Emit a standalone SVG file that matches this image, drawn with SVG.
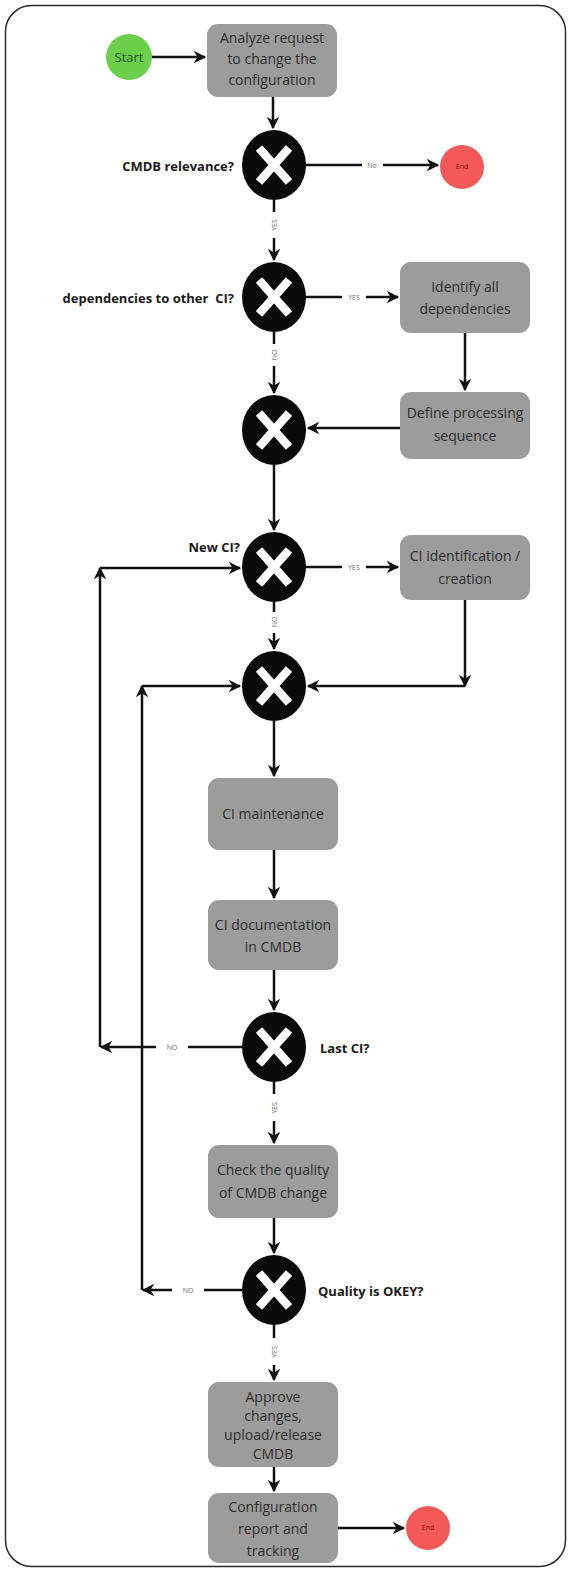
<svg xmlns="http://www.w3.org/2000/svg" width="571" height="1571" viewBox="0 0 571 1571">
  <defs>
    <marker id="arrow" viewBox="0 0 10 10" refX="9" refY="5" markerWidth="5" markerHeight="5" orient="auto" markerUnits="strokeWidth">
      <path d="M0,0 L10,5 L0,10 L3,5 Z" fill="#111"/>
    </marker>
    <g id="xmark">
      <ellipse cx="0" cy="0" rx="32" ry="35" fill="#0a0a0a"/>
      <path d="M-15,-17 L15,17 M15,-17 L-15,17" stroke="#fff" stroke-width="8.5"/>
    </g>
  </defs>
  <style>
    .frame { fill: #fff; stroke: #2a2a2a; stroke-width: 1.5; }
    .box { fill: #9c9c9c; }
    .btxt { font-family: "Open Sans", "Liberation Sans", sans-serif; font-size: 14px; fill: #2e2e2e; text-anchor: middle; }
    .q { font-family: "Open Sans", "Liberation Sans", sans-serif; font-size: 13px; font-weight: bold; fill: #1a1a1a; }
    .lbl { font-family: "Open Sans", "Liberation Sans", sans-serif; font-size: 7px; fill: #666; text-anchor: middle; }
    .edge { fill: none; stroke: #111; stroke-width: 2.5; }
    .arr { marker-end: url(#arrow); }
  </style>

  <rect class="frame" x="5.5" y="5.5" width="560" height="1561" rx="26"/>

  <!-- connectors -->
  <g id="connectors">
    <path class="edge arr" d="M152,57 H205"/>
    <path class="edge arr" d="M273,97 V128"/>
    <path class="edge" d="M306,165 H362"/>
    <path class="edge arr" d="M383,165 H438"/>
    <text class="lbl" x="372" y="168">No</text>
    <path class="edge" d="M274,200 V212"/>
    <text class="lbl" transform="translate(277,225) rotate(-90)">YES</text>
    <path class="edge arr" d="M274,238 V260"/>
    <path class="edge" d="M306,297 H342"/>
    <text class="lbl" x="354" y="300">YES</text>
    <path class="edge arr" d="M366,297 H398"/>
    <path class="edge" d="M274,332 V344"/>
    <text class="lbl" transform="translate(277,355) rotate(-90)">NO</text>
    <path class="edge arr" d="M274,366 V393"/>
    <path class="edge arr" d="M465,333 V390"/>
    <path class="edge arr" d="M400,428 H308"/>
    <path class="edge arr" d="M274,465 V530"/>
    <path class="edge" d="M306,567 H342"/>
    <text class="lbl" x="354" y="570">YES</text>
    <path class="edge arr" d="M366,567 H398"/>
    <path class="edge" d="M274,602 V612"/>
    <text class="lbl" transform="translate(277,622) rotate(-90)">NO</text>
    <path class="edge arr" d="M274,633 V649"/>
    <path class="edge arr" d="M465,600 V686"/>
    <path class="edge arr" d="M465,686 H308"/>
    <path class="edge arr" d="M100,1047 V568"/>
    <path class="edge arr" d="M100,568 H240"/>
    <path class="edge arr" d="M142,1290 V686"/>
    <path class="edge arr" d="M142,686 H240"/>
    <path class="edge arr" d="M274,721 V776"/>
    <path class="edge arr" d="M274,850 V898"/>
    <path class="edge arr" d="M274,970 V1010"/>
    <path class="edge" d="M242,1047 H188"/>
    <text class="lbl" x="172" y="1050">NO</text>
    <path class="edge arr" d="M156,1047 H101"/>
    <path class="edge" d="M274,1082 V1094"/>
    <text class="lbl" transform="translate(277,1108) rotate(-90)">YES</text>
    <path class="edge arr" d="M274,1121 V1143"/>
    <path class="edge arr" d="M274,1218 V1253"/>
    <path class="edge" d="M242,1290 H204"/>
    <text class="lbl" x="188" y="1293">NO</text>
    <path class="edge arr" d="M172,1290 H143"/>
    <path class="edge" d="M274,1325 V1338"/>
    <text class="lbl" transform="translate(277,1352) rotate(-90)">YES</text>
    <path class="edge arr" d="M274,1365 V1380"/>
    <path class="edge arr" d="M274,1467 V1491"/>
    <path class="edge arr" d="M338,1528 H404"/>
  </g>

  <g id="start">
    <circle cx="129" cy="57" r="23" fill="#6ccf4c"/>
    <text x="129" y="62" style="font-family:'Open Sans','Liberation Sans',sans-serif;font-size:13px;fill:#1f4f1a;text-anchor:middle">Start</text>
  </g>
  <g id="analyze">
    <rect class="box" x="207" y="24" width="130" height="73" rx="11"/>
    <text class="btxt" x="272" y="43">Analyze request</text>
    <text class="btxt" x="272" y="64">to change the</text>
    <text class="btxt" x="272" y="85">configuration</text>
  </g>
  <g id="gw-relevance">
    <use href="#xmark" x="274" y="165"/>
    <text class="q" x="234" y="171" text-anchor="end">CMDB relevance?</text>
  </g>
  <g id="end-early">
    <circle cx="462" cy="167" r="22" fill="#f25a5a"/>
    <text x="462" y="169" style="font-family:'Open Sans','Liberation Sans',sans-serif;font-size:7px;fill:#8a1010;text-anchor:middle">End</text>
  </g>
  <g id="gw-dependencies">
    <use href="#xmark" x="274" y="297"/>
    <text class="q" x="234" y="303" text-anchor="end" xml:space="preserve">dependencies to other  CI?</text>
  </g>
  <g id="identify">
    <rect class="box" x="400" y="262" width="130" height="71" rx="11"/>
    <text class="btxt" x="465" y="292">Identify all</text>
    <text class="btxt" x="465" y="314">dependencies</text>
  </g>
  <g id="define">
    <rect class="box" x="400" y="392" width="130" height="67" rx="11"/>
    <text class="btxt" x="465" y="418">Define processing</text>
    <text class="btxt" x="465" y="441">sequence</text>
  </g>
  <g id="gw-merge1">
    <use href="#xmark" x="274" y="430"/>
  </g>
  <g id="gw-newci">
    <use href="#xmark" x="274" y="567"/>
    <text class="q" x="240" y="552" text-anchor="end">New CI?</text>
  </g>
  <g id="ci-identification">
    <rect class="box" x="400" y="535" width="130" height="65" rx="11"/>
    <text class="btxt" x="465" y="561">CI identification /</text>
    <text class="btxt" x="465" y="584">creation</text>
  </g>
  <g id="gw-merge2">
    <use href="#xmark" x="274" y="686"/>
  </g>
  <g id="ci-maintenance">
    <rect class="box" x="208" y="778" width="130" height="72" rx="11"/>
    <text class="btxt" x="273" y="819">CI maintenance</text>
  </g>
  <g id="ci-documentation">
    <rect class="box" x="208" y="900" width="130" height="70" rx="11"/>
    <text class="btxt" x="273" y="930">CI documentation</text>
    <text class="btxt" x="273" y="952">in CMDB</text>
  </g>
  <g id="gw-lastci">
    <use href="#xmark" x="274" y="1047"/>
    <text class="q" x="320" y="1053">Last CI?</text>
  </g>
  <g id="check-quality">
    <rect class="box" x="208" y="1145" width="130" height="73" rx="11"/>
    <text class="btxt" x="273" y="1175">Check the quality</text>
    <text class="btxt" x="273" y="1198">of CMDB change</text>
  </g>
  <g id="gw-quality">
    <use href="#xmark" x="274" y="1290"/>
    <text class="q" x="318" y="1296">Quality is OKEY?</text>
  </g>
  <g id="approve">
    <rect class="box" x="208" y="1382" width="130" height="85" rx="11"/>
    <text class="btxt" x="273" y="1402">Approve</text>
    <text class="btxt" x="273" y="1421">changes,</text>
    <text class="btxt" x="273" y="1440">upload/release</text>
    <text class="btxt" x="273" y="1459">CMDB</text>
  </g>
  <g id="report">
    <rect class="box" x="208" y="1493" width="130" height="70" rx="11"/>
    <text class="btxt" x="273" y="1512">Configuration</text>
    <text class="btxt" x="273" y="1534">report and</text>
    <text class="btxt" x="273" y="1556">tracking</text>
  </g>
  <g id="end-final">
    <circle cx="428" cy="1528" r="22" fill="#f25a5a"/>
    <text x="428" y="1530" style="font-family:'Open Sans','Liberation Sans',sans-serif;font-size:7px;fill:#8a1010;text-anchor:middle">End</text>
  </g>
</svg>
